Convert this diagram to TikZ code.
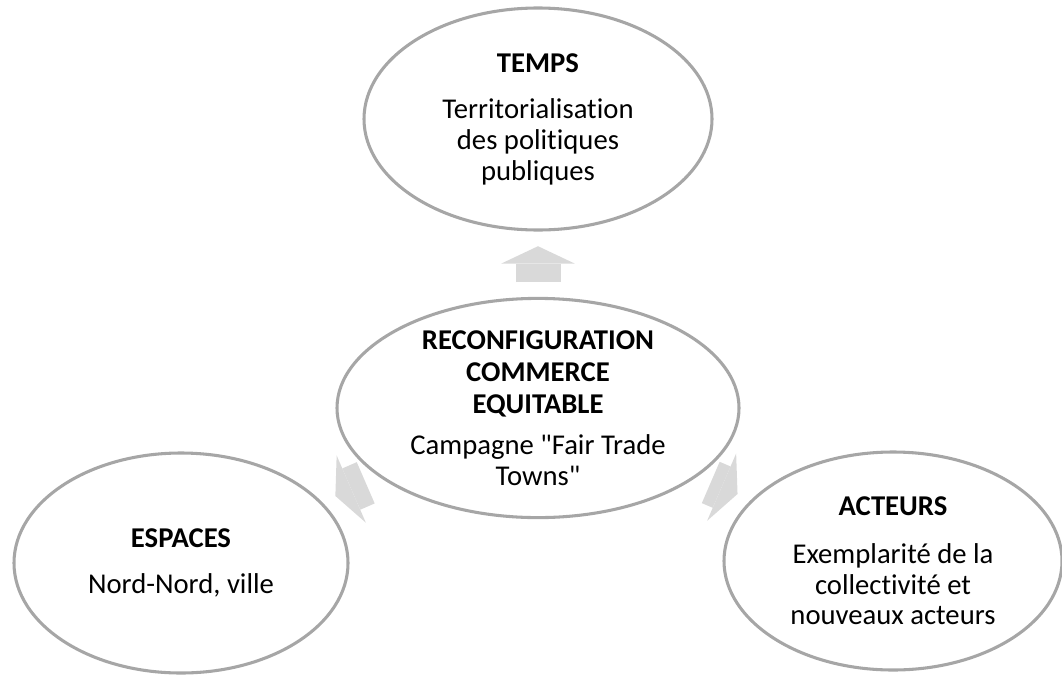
\documentclass[tikz,border=0pt]{standalone}
\usepackage{fontspec}
\setmainfont{Carlito}[Ligatures={TeXOff,NoCommon}]
\usepackage{tikz}
\usetikzlibrary{shapes.geometric,arrows.meta}
\definecolor{rim}{RGB}{166,166,166}
\definecolor{flux}{RGB}{217,217,217}

\begin{document}
\begin{tikzpicture}[x=0.75pt, y=-0.75pt,
    bulle/.style={ellipse, draw=rim, line width=2.3pt, fill=white, inner sep=0pt,
        align=center, font=\fontsize{21.5}{23}\selectfont},
    fleche/.style={draw=flux, line width=33.75pt, shorten <=11pt, shorten >=11pt,
        -{Triangle[length=13pt, width=55pt, line width=0pt]}}]
    \useasboundingbox (0,0) rectangle (1062,674);

    \node[bulle, minimum width=301.5pt, minimum height=162pt] (centre) at (538,408)
        {\textbf{RECONFIGURATION}\\[1pt]\textbf{COMMERCE}\\[1pt]\textbf{EQUITABLE}\\[8pt]Campagne "Fair Trade\\Towns"};
    \node[bulle, minimum width=261pt, minimum height=166.5pt] (temps) at (538,119)
        {\textbf{TEMPS}\\[12pt]Territorialisation\\des politiques\\publiques};
    \node[bulle, minimum width=250.5pt, minimum height=165pt] (espaces) at (181,563)
        {\textbf{ESPACES}\\[12pt]Nord-Nord, ville};
    \node[bulle, minimum width=253.5pt, minimum height=163.5pt] (acteurs) at (893,561)
        {\textbf{ACTEURS}\\[13pt]Exemplarité de la\\collectivité et\\nouveaux acteurs};

    \foreach \cible in {temps, espaces, acteurs} {
        \draw[fleche] (centre) -- (\cible);
    }
\end{tikzpicture}
\end{document}
